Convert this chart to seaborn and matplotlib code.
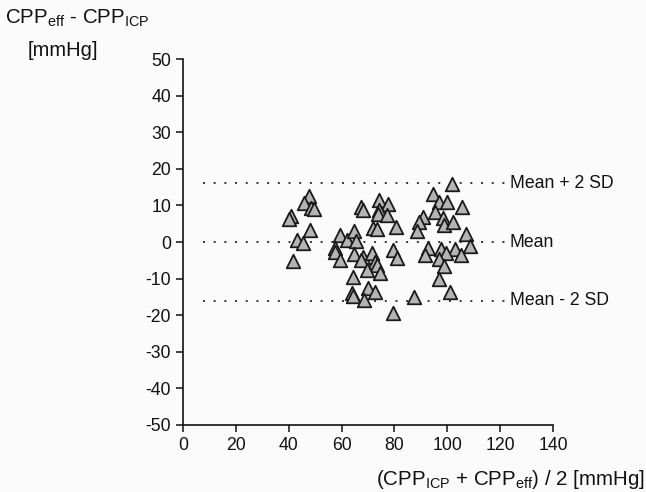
#!/usr/bin/env python3
import numpy as np
import pandas as pd
import seaborn as sns
import matplotlib.pyplot as plt

# Bland-Altman style data
mean_pairs = [47.7, 45.8, 48.4, 49.6, 40.9, 40.1, 48.1, 43.1, 45.4, 41.6,
              59.4, 62.1, 57.5, 57.5, 59.4,
              101.8, 94.6, 96.9, 99.9, 105.6, 95.3, 90.8, 89.3, 88.5, 98.4,
              98.8, 102.2, 107.1, 108.6, 102.9, 105.2, 97.6, 99.5, 96.9, 98.8,
              92.7, 91.6, 96.9, 101.0, 87.4, 79.5,
              67.3, 68.1, 74.2, 77.6, 74.2, 73.8, 77.2, 80.6, 71.9, 73.4,
              64.7, 65.5, 79.5, 81.0, 64.7, 68.1, 71.5, 67.3, 72.6, 73.4,
              69.6, 74.5, 64.3, 70.0, 72.6, 63.9, 64.3, 68.5]
diff_pairs = [12.6, 10.7, 9.3, 9.0, 7.1, 6.3, 3.3, 0.5, -0.3, -5.2,
              1.9, 0.5, -1.6, -2.7, -4.9,
              15.8, 13.1, 10.9, 10.9, 9.6, 8.2, 6.8, 5.5, 3.0, 6.6,
              4.6, 5.5, 2.2, -1.1, -1.9, -3.6, -1.9, -3.0, -4.6, -6.6,
              -1.6, -3.6, -10.1, -13.7, -15.0, -19.4,
              9.6, 8.7, 11.5, 10.4, 8.7, 7.7, 7.4, 4.1, 3.8, 3.6,
              3.0, 0.3, -2.2, -4.4, -3.3, -4.1, -3.0, -4.9, -5.5, -6.3,
              -7.7, -8.5, -9.6, -12.6, -13.7, -13.9, -14.8, -15.8]

ref_levels = [16.0, 0.0, -16.0]
ref_labels = ['Mean + 2 SD', 'Mean', 'Mean - 2 SD']

x_ticks = [0, 20, 40, 60, 80, 100, 120, 140]
y_ticks = [50, 40, 30, 20, 10, 0, -10, -20, -30, -40, -50]


def main(out_file='out.png'):
    df = pd.DataFrame({'avg': mean_pairs, 'diff': diff_pairs})

    sns.set_style('ticks')
    plt.rcParams['font.family'] = ['Liberation Sans', 'DejaVu Sans']
    plt.rcParams['mathtext.default'] = 'regular'
    plt.rcParams['axes.unicode_minus'] = False

    fig = plt.figure(figsize=(6.46, 4.92), dpi=100, facecolor='#fbfbfb')
    ax = fig.add_axes([0.2833, 0.1362, 0.5728, 0.7438])
    ax.set_facecolor('#fbfbfb')

    # reference lines (mean, +/- 2 SD)
    for lvl, lab in zip(ref_levels, ref_labels):
        ax.plot([7.5, 123], [lvl, lvl], color='#333333', lw=1.4,
                linestyle=(0, (1, 4.5)), zorder=1)
        ax.text(123.7, lvl, lab, ha='left', va='center', fontsize=12.7,
                color='#111111', clip_on=False)

    sns.scatterplot(data=df, x='avg', y='diff', marker='^', s=95,
                    color='#b4b4b4', edgecolor='#1a1a1a', linewidth=1.3,
                    ax=ax, zorder=3, legend=False)

    ax.set_xlim(0, 140)
    ax.set_ylim(-50, 50)
    ax.set_xticks(x_ticks)
    ax.set_yticks(y_ticks)
    ax.tick_params(axis='both', labelsize=12.7, length=5, width=1.1,
                   color='#111111', labelcolor='#111111', direction='out')
    ax.set_xlabel('')
    ax.set_ylabel('')
    sns.despine(ax=ax)
    for side in ['left', 'bottom']:
        ax.spines[side].set_linewidth(1.2)
        ax.spines[side].set_color('#111111')

    # axis titles placed like the original figure
    fig.text(0.008, 0.962, 'CPP$_{eff}$ - CPP$_{ICP}$', ha='left', va='center',
             fontsize=14.8, color='#111111')
    fig.text(0.097, 0.898, '[mmHg]', ha='center', va='center',
             fontsize=14.5, color='#111111')
    fig.text(0.998, 0.025, '(CPP$_{ICP}$ + CPP$_{eff}$) / 2 [mmHg]',
             ha='right', va='center', fontsize=14.8, color='#111111')

    fig.savefig(out_file, dpi=100, facecolor=fig.get_facecolor())


if __name__ == '__main__':
    main()
